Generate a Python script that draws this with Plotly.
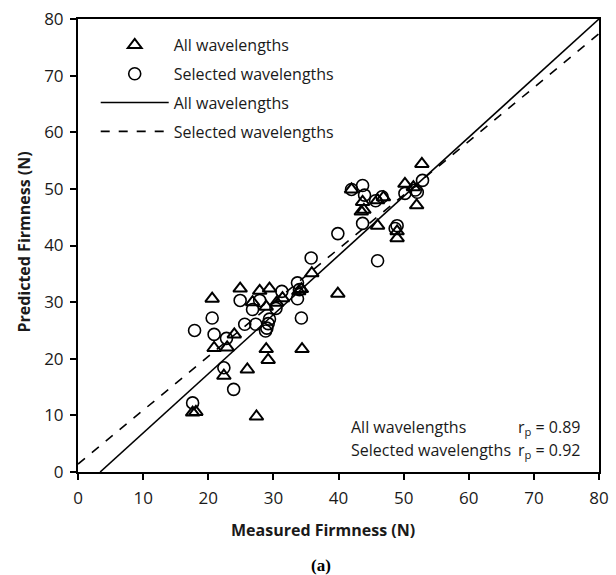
import plotly.graph_objects as go

# Data
all_x = [17.6, 18.1, 27.4, 20.9, 22.9, 22.4, 26.0, 28.9, 29.2, 34.4, 20.6, 24.0, 24.9,
         27.9, 26.8, 29.4, 28.9, 30.5, 31.4, 33.9, 34.3, 35.9, 39.9, 42.0, 43.7, 43.9,
         43.5, 46.0, 46.9, 46.0, 49.0, 49.0, 50.2, 51.5, 52.0, 52.8]
all_y = [10.5, 10.6, 9.8, 21.9, 22.0, 17.0, 18.1, 21.7, 19.8, 21.7, 30.6, 24.3, 32.4,
         32.0, 30.0, 32.4, 29.2, 29.9, 30.7, 31.9, 32.3, 35.1, 31.5, 49.9, 47.7, 46.3,
         46.0, 48.0, 48.5, 43.5, 41.3, 42.5, 50.9, 50.3, 47.1, 54.4]

sel_x = [17.9, 17.6, 20.6, 20.9, 22.8, 22.4, 23.9, 24.9, 25.6, 26.8, 27.3, 27.9, 28.8,
         29.0, 29.2, 29.4, 30.4, 31.3, 33.7, 34.0, 33.7, 34.3, 35.8, 39.9, 42.0, 43.7,
         44.0, 43.7, 45.7, 46.7, 46.0, 48.7, 49.0, 50.2, 51.8, 52.1, 52.9]
sel_y = [25.0, 12.2, 27.2, 24.3, 23.6, 18.4, 14.6, 30.3, 26.1, 28.7, 26.1, 30.3, 24.9,
         25.4, 26.2, 27.0, 28.9, 31.9, 33.4, 32.2, 30.6, 27.2, 37.8, 42.1, 49.9, 50.6,
         48.9, 43.9, 47.9, 48.6, 37.3, 43.0, 43.5, 49.2, 49.8, 49.4, 51.5]

# Regression line end points
fit_all_x = [3.4, 80]
fit_all_y = [0, 80]
fit_sel_x = [0, 80]
fit_sel_y = [1.4, 77.4]

legend_names = ["All wavelengths", "Selected wavelengths", "All wavelengths", "Selected wavelengths"]
stats_labels = ["All wavelengths", "Selected wavelengths"]
stats_r = ["0.89", "0.92"]
x_title = "Measured Firmness (N)"
y_title = "Predicted Firmness (N)"
panel_label = "(a)"

FONT = "Open Sans"
TXT = "#1a1a1a"

fig = go.Figure()
fig.add_trace(go.Scatter(x=all_x, y=all_y, mode="markers", name=legend_names[0],
                         legendgroup="a",
                         marker=dict(symbol="triangle-up-open", size=12, color="black",
                                     line=dict(width=2, color="black"))))
fig.add_trace(go.Scatter(x=sel_x, y=sel_y, mode="markers", name=legend_names[1],
                         legendgroup="b",
                         marker=dict(symbol="circle-open", size=12, color="black",
                                     line=dict(width=1.6, color="black"))))
fig.add_trace(go.Scatter(x=fit_all_x, y=fit_all_y, mode="lines", name=legend_names[2],
                         legendgroup="c",
                         line=dict(color="black", width=1.6)))
fig.add_trace(go.Scatter(x=fit_sel_x, y=fit_sel_y, mode="lines", name=legend_names[3],
                         legendgroup="d",
                         line=dict(color="black", width=1.6, dash="dash")))

axis_common = dict(range=[0, 80], dtick=10, tick0=0, showgrid=False, zeroline=False,
                   showline=True, linecolor="black", linewidth=2, mirror=True,
                   ticks="outside", ticklen=6, tickwidth=1.5, tickcolor="black",
                   ticklabeloverflow="allow",
                   tickfont=dict(family=FONT, size=17, color=TXT))

fig.update_layout(
    width=616, height=575,
    margin=dict(l=78, r=7, t=16, b=103),
    paper_bgcolor="white", plot_bgcolor="white",
    font=dict(family=FONT, size=16, color=TXT),
    showlegend=True,
    legend=dict(x=0.034, y=0.98, xanchor="left", yanchor="top",
                bgcolor="rgba(0,0,0,0)", borderwidth=0,
                itemwidth=68, traceorder="grouped", tracegroupgap=5,
                font=dict(family=FONT, size=16, color=TXT)),
    xaxis=dict(**axis_common, ticklabelstandoff=4),
    yaxis=dict(**axis_common, ticklabelstandoff=3),
)

# axis titles
fig.add_annotation(xref="paper", yref="paper", x=(328 - 78) / 531, y=(472 - 530) / 456,
                   xanchor="center", yanchor="middle", showarrow=False,
                   text="<b>" + x_title + "</b>", font=dict(family=FONT, size=16, color=TXT))
fig.add_annotation(xref="paper", yref="paper", x=(22 - 78) / 531, y=(472 - 241) / 456,
                   xanchor="center", yanchor="middle", showarrow=False, textangle=-90,
                   text="<b>" + y_title + "</b>", font=dict(family=FONT, size=16, color=TXT))

row_y = [0.099, 0.048]
for i in range(2):
    fig.add_annotation(xref="paper", yref="paper", x=0.52, y=row_y[i],
                       xanchor="left", yanchor="middle", showarrow=False,
                       text=stats_labels[i], font=dict(family=FONT, size=16, color=TXT))
    fig.add_annotation(xref="paper", yref="paper", x=0.84, y=row_y[i],
                       xanchor="left", yanchor="middle", showarrow=False,
                       text="r<sub>p</sub> = " + stats_r[i],
                       font=dict(family=FONT, size=16, color=TXT))

fig.add_annotation(xref="paper", yref="paper", x=(326 - 78) / 531, y=(472 - 566) / 456,
                   xanchor="center", yanchor="middle", showarrow=False,
                   text="<b>" + panel_label + "</b>",
                   font=dict(family="Liberation Serif", size=17, color="black"))

fig.write_html("out.html")
